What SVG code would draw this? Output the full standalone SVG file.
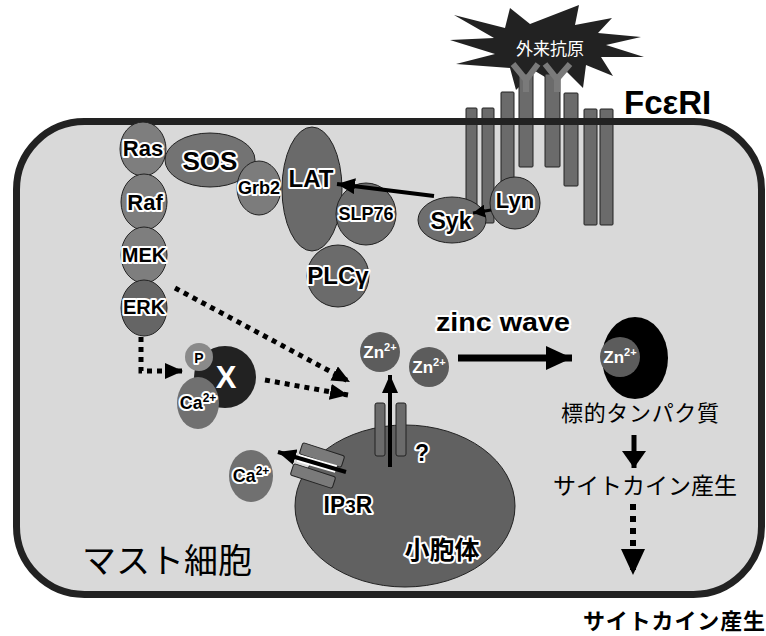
<svg xmlns="http://www.w3.org/2000/svg" width="766" height="636" viewBox="0 0 766 636">
  <style>
    .lbl { font-family: "Liberation Sans", Arial, sans-serif; font-weight: bold; fill: #000; stroke: #fff; stroke-width: 4; stroke-linejoin: round; paint-order: stroke; text-anchor: middle; }
    .wht { font-family: "Liberation Sans", Arial, sans-serif; font-weight: bold; fill: #fff; text-anchor: middle; }
    .jp { font-family: "Noto Sans CJK JP", "Noto Sans", sans-serif; fill: #000; }
    .mol { stroke: #222; stroke-width: 1; }
    .bar { fill: #6b6b6b; stroke: #222; stroke-width: 1; }
    .solid { stroke: #000; fill: none; }
    .dot { stroke: #000; fill: none; stroke-dasharray: 5 5; }
  </style>
  <defs>
    <marker id="head-sm" markerUnits="userSpaceOnUse" markerWidth="18" markerHeight="16" refX="18" refY="8" orient="auto">
      <path d="M0,0 L18,8 L0,16 z" fill="#000"/>
    </marker>
    <marker id="head-lg" markerUnits="userSpaceOnUse" markerWidth="26" markerHeight="24" refX="26" refY="12" orient="auto">
      <path d="M0,0 L26,12 L0,24 z" fill="#000"/>
    </marker>
    <marker id="head-wide" markerUnits="userSpaceOnUse" markerWidth="17" markerHeight="24" refX="17" refY="12" orient="auto">
      <path d="M0,0 L17,12 L0,24 z" fill="#000"/>
    </marker>
    <marker id="head-xs" markerUnits="userSpaceOnUse" markerWidth="12" markerHeight="13" refX="12" refY="6.5" orient="auto">
      <path d="M0,0 L12,6.5 L0,13 z" fill="#000"/>
    </marker>
  </defs>

  <rect width="766" height="636" fill="#fff"/>

  <!-- cell body -->
  <g id="mast-cell">
    <rect x="16.5" y="121.5" width="745" height="473" rx="68" fill="#d9d9d9"/>
  </g>

  <!-- antigen burst -->
  <g id="antigen">
    <polygon fill="#222" points="450,40 494,38 454,15 505,28 510,8 530,24 579,5 575,25 612,18 598,33 641,37 606,45 644,57 601,57 613,76 586,65 583,88 565,70 550,80 535,71 516,90 510,68 456,64 495,54"/>
    <text class="jp" x="550" y="55" font-size="17" text-anchor="middle" style="fill:#fff">外来抗原</text>
  </g>

  <!-- FcεRI receptor chains -->
  <g id="fceri">
    <rect class="bar" x="466" y="108" width="11" height="117" rx="1"/>
    <rect class="bar" x="482" y="108" width="12" height="115" rx="1"/>
    <rect class="bar" x="501" y="92" width="13" height="92" rx="1"/>
    <rect class="bar" x="519" y="74" width="14" height="93" rx="1"/>
    <rect class="bar" x="545" y="74" width="15" height="93" rx="1"/>
    <rect class="bar" x="564" y="93" width="14" height="93" rx="1"/>
    <rect class="bar" x="584" y="109" width="13" height="116" rx="1"/>
    <rect class="bar" x="600" y="109" width="13" height="116" rx="1"/>
    <g stroke="#7a7a7a" stroke-width="6" fill="none">
      <path d="M513,64 L526,80 L538,64 M526,80 V92"/>
      <path d="M545,64 L557,79 L570,64 M557,79 V92"/>
    </g>
    <text x="624" y="114" font-family="Liberation Sans, Arial, sans-serif" font-weight="bold" font-size="33" fill="#000">FcεRI</text>
  </g>

  <!-- plasma membrane outline -->
  <rect x="16.5" y="121.5" width="745" height="473" rx="68" fill="none" stroke="#222" stroke-width="7"/>

  <g id="ras"><ellipse class="mol" cx="143" cy="149" rx="23" ry="27" fill="#7e7e7e"/><text class="lbl" x="143" y="156" font-size="22">Ras</text></g>
  <g id="raf"><ellipse class="mol" cx="144" cy="202" rx="23" ry="28" fill="#7e7e7e"/><text class="lbl" x="145" y="210" font-size="22">Raf</text></g>
  <g id="mek"><ellipse class="mol" cx="144" cy="255" rx="23" ry="28" fill="#7e7e7e"/><text class="lbl" x="144" y="262" font-size="20">MEK</text></g>
  <g id="erk"><ellipse class="mol" cx="144" cy="308" rx="23" ry="28" fill="#656565"/><text class="lbl" x="144" y="314" font-size="20">ERK</text></g>
  <g id="sos"><ellipse class="mol" cx="210" cy="160" rx="45" ry="27" fill="#737373"/><text class="lbl" x="210" y="170" font-size="26">SOS</text></g>
  <g id="grb2"><ellipse class="mol" cx="259" cy="188" rx="22" ry="27" fill="#7c7c7c"/><text class="lbl" x="259" y="194" font-size="18">Grb2</text></g>
  <g id="lat"><ellipse class="mol" cx="312" cy="189" rx="30" ry="62" fill="#6a6a6a"/><text class="lbl" x="311" y="187" font-size="24">LAT</text></g>
  <g id="slp76"><ellipse class="mol" cx="366" cy="214" rx="30" ry="31" fill="#6b6b6b"/><text class="lbl" x="366" y="220" font-size="18">SLP76</text></g>
  <g id="plcg"><ellipse class="mol" cx="338" cy="276" rx="31" ry="31" fill="#6b6b6b"/><text class="lbl" x="338" y="284" font-size="24">PLCγ</text></g>
  <g id="syk"><ellipse class="mol" cx="452" cy="220" rx="34" ry="23" fill="#6e6e6e"/><text class="lbl" x="451" y="229" font-size="23">Syk</text></g>
  <g id="lyn"><ellipse class="mol" cx="515" cy="203" rx="25" ry="26" fill="#6e6e6e"/><text class="lbl" x="515" y="208" font-size="22">Lyn</text></g>

  <g id="x-complex">
    <circle cx="225" cy="377" r="31" fill="#222"/>
    <text class="wht" x="226" y="388" font-size="31">X</text>
    <circle cx="199" cy="357" r="14" fill="#8a8a8a"/>
    <text class="lbl" x="199" y="363" font-size="14">P</text>
    <ellipse cx="198" cy="403" rx="21" ry="26" fill="#707070"/>
    <text class="lbl" x="198" y="409" font-size="18">Ca<tspan font-size="12" dy="-7">2+</tspan></text>
  </g>

  <g id="zn-1"><circle cx="380" cy="352" r="20" fill="#5c5c5c"/><text class="wht" x="380" y="358" font-size="17">Zn<tspan font-size="11" dy="-7">2+</tspan></text></g>
  <g id="zn-2"><circle cx="429" cy="367" r="20" fill="#5c5c5c"/><text class="wht" x="429" y="373" font-size="17">Zn<tspan font-size="11" dy="-7">2+</tspan></text></g>

  <g id="zinc-wave-label"><text class="lbl" x="503" y="331" font-size="25" textLength="134" lengthAdjust="spacingAndGlyphs">zinc wave</text></g>

  <g id="target-protein">
    <ellipse cx="635" cy="358" rx="33" ry="41" fill="#000"/>
    <circle cx="620" cy="357" r="20" fill="#5c5c5c"/>
    <text class="wht" x="620" y="363" font-size="17">Zn<tspan font-size="11" dy="-7">2+</tspan></text>
    <text class="jp" x="640" y="421" font-size="22" text-anchor="middle" textLength="158">標的タンパク質</text>
  </g>

  <g id="cytokine-inner"><text class="jp" x="645" y="494" font-size="23" text-anchor="middle" textLength="184">サイトカイン産生</text></g>
  <g id="cytokine-outer"><text class="jp" x="583" y="629" font-size="22" font-weight="bold" textLength="182">サイトカイン産生</text></g>

  <g id="ca-free">
    <ellipse cx="251" cy="476" rx="22" ry="26" fill="#707070"/>
    <text class="lbl" x="251" y="482" font-size="18">Ca<tspan font-size="12" dy="-7">2+</tspan></text>
  </g>

  <g id="er">
    <ellipse class="mol" cx="405" cy="506" rx="110" ry="81" fill="#616161"/>
    <rect class="bar" x="375" y="403" width="10" height="53" rx="2"/>
    <rect class="bar" x="396" y="403" width="10" height="53" rx="2"/>
    <g transform="rotate(18 322 455)"><rect class="bar" x="300" y="449" width="44" height="12" rx="2" style="fill:#7a7a7a"/></g>
    <g transform="rotate(18 313 476)"><rect class="bar" x="291" y="470" width="44" height="12" rx="2" style="fill:#7a7a7a"/></g>
    <text class="lbl" x="422" y="461" font-size="23">?</text>
    <text class="lbl" x="348" y="513" font-size="23">IP<tspan font-size="19">3</tspan>R</text>
    <text class="lbl" x="442" y="559" font-size="25" style="font-family:'Noto Sans CJK JP', sans-serif">小胞体</text>
  </g>

  <g id="mast-cell-label"><text class="jp" x="82" y="573" font-size="34">マスト細胞</text></g>

  <!-- connectors -->
  <g id="connectors">
    <line class="solid" x1="434" y1="196" x2="337" y2="184" stroke-width="4" marker-end="url(#head-sm)"/>
    <line class="solid" x1="491" y1="210" x2="473" y2="213" stroke-width="3" marker-end="url(#head-xs)"/>
    <polyline class="dot" points="141,337 141,371 183,371" stroke-width="5" marker-end="url(#head-sm)"/>
    <line class="dot" x1="175" y1="288" x2="350" y2="382" stroke-width="5" marker-end="url(#head-sm)"/>
    <line class="dot" x1="265" y1="380" x2="348" y2="395" stroke-width="5" marker-end="url(#head-sm)"/>
    <line class="solid" x1="458" y1="358" x2="572" y2="358" stroke-width="7" marker-end="url(#head-lg)"/>
    <line class="solid" x1="390" y1="467" x2="390" y2="375" stroke-width="4" marker-end="url(#head-sm)"/>
    <line x1="336" y1="469" x2="298" y2="458" stroke="#fff" stroke-width="8"/>
    <line class="solid" x1="346" y1="472" x2="278" y2="452" stroke-width="4" marker-end="url(#head-sm)"/>
    <line class="solid" x1="634" y1="435" x2="634" y2="468" stroke-width="5" marker-end="url(#head-wide)"/>
    <line class="solid" x1="633" y1="504" x2="633" y2="575" stroke-width="6" stroke-dasharray="6 6" marker-end="url(#head-lg)"/>
  </g>
</svg>
